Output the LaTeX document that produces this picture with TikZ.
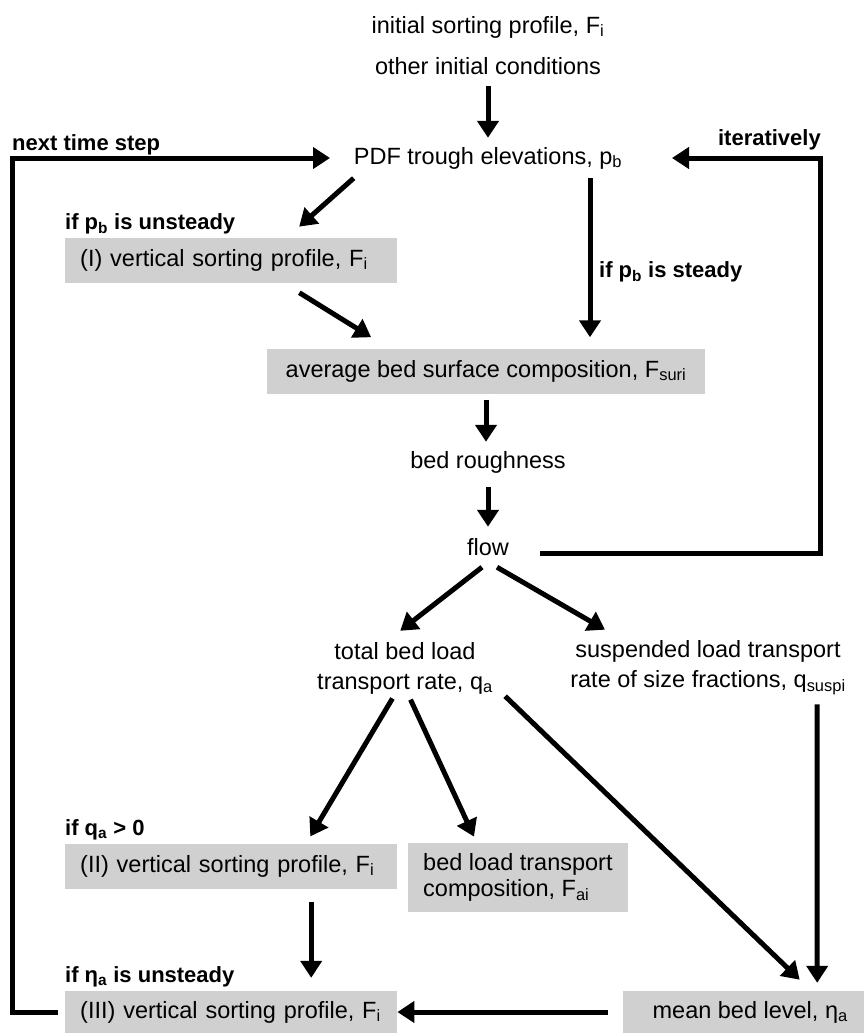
\documentclass[tikz,border=0pt]{standalone}
\usepackage{fontspec}
\setmainfont{Liberation Sans}
\usetikzlibrary{arrows.meta,positioning,calc}
\definecolor{boxgrey}{HTML}{D0D0D0}
\tikzset{
  txt/.style     = {inner sep=0pt, minimum height=40pt, align=center},
  cond/.style    = {inner sep=0pt, anchor=west,
                    font=\fontsize{22}{26}\selectfont\bfseries},
  greybox/.style = {fill=boxgrey, inner xsep=15pt, inner ysep=0pt,
                    minimum height=45pt},
  profbox/.style = {greybox, text width=302pt, anchor=west, align=left},
  arr/.style     = {-{Triangle[length=17pt,width=21pt]}, line width=5pt},
}

\begin{document}
\begin{tikzpicture}[x=1pt,y=-1pt,font=\fontsize{23.5}{30}\selectfont]
\useasboundingbox (0,0) rectangle (863,1034);
% start values
\node[txt] (init1) at (488,27) {initial sorting profile, F\textsubscript{i}};
\node[txt] (init2) at (488,66) {other initial conditions};
\node[txt] (pdf) at (488,158) {PDF trough elevations, p\textsubscript{b}};
\node[cond] (nts) at (12,145) {next time step};
\node[cond,anchor=east] (iter) at (821,140) {iteratively};
% surface layer
\node[cond] (unst) at (65,224) {if p\textsubscript{b} is unsteady};
\node[profbox] (prof1) at (65,260) {(I) vertical sorting profile, F\textsubscript{i}};
\node[cond] (stdy) at (599,272) {if p\textsubscript{b} is steady};
\node[greybox,minimum width=438pt] (avg) at (486,371)
  {average bed surface composition, F\textsubscript{suri}};
\node[txt] (rough) at (488,462) {bed roughness};
\node[txt] (flow) at (488,547) {flow};
% transport
\node[txt] (total) at (405,668) {total bed load\\transport rate, q\textsubscript{a}};
\node[txt] (susp) at (708,668)
  {suspended load transport\\rate of size fractions, q\textsubscript{suspi}};
\node[cond] (qpos) at (65,830) {if q\textsubscript{a} > 0};
\node[profbox] (prof2) at (65,866) {(II) vertical sorting profile, F\textsubscript{i}};
\node[greybox,anchor=north west,minimum height=69pt,align=left,
      font=\fontsize{23.5}{26}\selectfont] (comp) at (408,843)
  {bed load transport\\composition, F\textsubscript{ai}};
% bed level
\node[cond] (etau) at (65,977) {if η\textsubscript{a} is unsteady};
\node[profbox,minimum height=42pt] (prof3) at (65,1012)
  {(III) vertical sorting profile, F\textsubscript{i}};
\node[greybox,anchor=west,minimum width=254pt,minimum height=42pt] (mean)
  at (623,1012) {mean bed level, η\textsubscript{a}};

\draw[arr] (init2.south) -- (init2.south |- pdf.north);
\draw[arr,shorten >=16pt] (pdf.south west) -- ([xshift=56pt]prof1.north);
\draw[arr,shorten >=11pt] ([xshift=102pt]pdf.south) -- ([xshift=104pt]avg.north);
\draw[arr,shorten <=19pt,shorten >=21pt] ([xshift=52pt]prof1.south)
  -- ([xshift=-97pt]avg.north);
\draw[arr,shorten <=6pt] (avg.south) -- (avg.south |- rough.north);
\draw[arr,shorten <=5pt] (rough.south) -- (rough.south |- flow.north);
\draw[arr,shorten >=18pt] ([xshift=-6pt]flow.south) -- ([xshift=-19pt]total.north);
\draw[arr,shorten >=22pt] ([xshift=9pt]flow.south) -- ([xshift=-84pt]susp.north);
% iteration and time loops
\draw[arr] ([xshift=31pt,yshift=-6pt]flow.east) -- ++(280pt,0)
  |- ([xshift=184pt]pdf.center);
\draw[arr] ([xshift=-7pt]prof3.west) -- ++(-46pt,0)
  |- ([xshift=-158pt]pdf.center);
% from the transport rates
\draw[arr,shorten <=5pt,shorten >=8pt] ([xshift=-10pt]total.south)
  -- ([xshift=75pt]prof2.north);
\draw[arr,shorten <=6pt,shorten >=7pt] ([xshift=3pt]total.south)
  -- ([xshift=-41pt]comp.north);
\draw[arr,shorten <=3pt,shorten >=16pt] ([xshift=98pt]total.south)
  -- ([xshift=61pt]mean.north);
\draw[arr,shorten <=9pt,shorten >=8pt] ([xshift=109pt]susp.south)
  -- ([xshift=67pt]mean.north);
\draw[arr,shorten <=13pt,shorten >=13pt] ([xshift=80pt]prof2.south)
  -- ([xshift=80pt]prof3.north);
\draw[arr,shorten <=15pt] (mean.west) -- (prof3.east);
\end{tikzpicture}
\end{document}
